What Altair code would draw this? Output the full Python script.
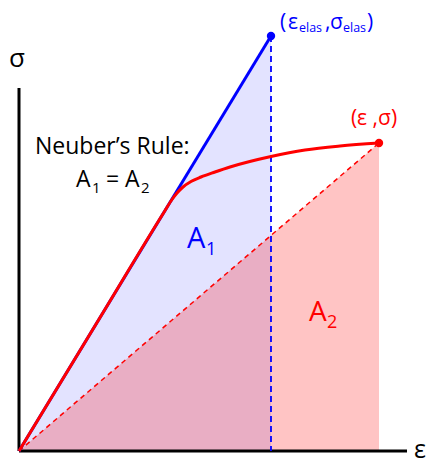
import altair as alt
import pandas as pd

# Elastic solution end point (ε_elas, σ_elas) and actual elastic-plastic state (ε, σ)
eps_elas, sig_elas = 2.52, 4.15
eps_act, sig_act = 3.60, 3.08

# Elastic-plastic stress-strain curve (linear up to yield, then hardening)
curve_eps = [0.0, 0.80, 1.45, 1.53, 1.58, 1.64, 1.72, 1.82, 1.96, 2.11, 2.52, 2.86, 3.21, 3.60]
curve_sig = [0.0, 1.318, 2.388, 2.515, 2.58, 2.64, 2.695, 2.74, 2.79, 2.84, 2.945, 3.01, 3.05, 3.08]

# Extent of the drawn axis lines
eps_axis_max = 3.88
sig_axis_max = 3.63

FONT = "Open Sans"
BLUE = "#0000ff"
RED = "#ff0000"

xs = alt.Scale(domain=[-0.19, 4.11], nice=False, zero=False)
ys = alt.Scale(domain=[-0.11, 4.51], nice=False, zero=False)


def X(field="eps"):
    return alt.X(f"{field}:Q", scale=xs, axis=None)


def Y(field="sig"):
    return alt.Y(f"{field}:Q", scale=ys, axis=None)


elastic = pd.DataFrame({"eps": [0.0, eps_elas], "sig": [0.0, sig_elas]})
secant = pd.DataFrame({"eps": [0.0, eps_act], "sig": [0.0, sig_act]})
curve = pd.DataFrame({"eps": curve_eps, "sig": curve_sig})
axes_df = pd.DataFrame({
    "eps": [0.0, 0.0], "eps2": [0.0, eps_axis_max],
    "sig": [0.0, 0.0], "sig2": [sig_axis_max, 0.0],
})
elas_pt = pd.DataFrame({"eps": [eps_elas], "sig": [sig_elas], "zero": [0.0]})
act_pt = pd.DataFrame({"eps": [eps_act], "sig": [sig_act]})

# Triangular areas A1 (elastic) and A2 (actual)
fill_a1 = alt.Chart(elastic).mark_area(color=BLUE, opacity=0.11).encode(
    x=X(), y=Y(), y2=alt.datum(0))
fill_a2 = alt.Chart(secant).mark_area(color=RED, opacity=0.23).encode(
    x=X(), y=Y(), y2=alt.datum(0))

axis_lines = alt.Chart(axes_df).mark_rule(color="black", strokeWidth=3).encode(
    x=X(), x2="eps2:Q", y=Y(), y2="sig2:Q")

elas_drop = alt.Chart(elas_pt).mark_rule(
    color=BLUE, strokeWidth=1.8, strokeDash=[6, 4]).encode(
    x=X(), y=Y(), y2="zero:Q")

secant_line = alt.Chart(secant).mark_line(
    color=RED, strokeWidth=1.5, strokeDash=[5, 4]).encode(x=X(), y=Y())

elastic_line = alt.Chart(elastic).mark_line(color=BLUE, strokeWidth=3).encode(
    x=X(), y=Y())

curve_line = alt.Chart(curve).mark_line(
    color=RED, strokeWidth=3, interpolate="monotone").encode(
    x=X(), y=Y(), order="eps:Q")

elas_dot = alt.Chart(elas_pt).mark_point(
    filled=True, color=BLUE, size=70, opacity=1).encode(x=X(), y=Y())
act_dot = alt.Chart(act_pt).mark_point(
    filled=True, color=RED, size=70, opacity=1).encode(x=X(), y=Y())

dummy = pd.DataFrame({"k": [0]})


def label(text, x, y, size, color="black", align="left"):
    return alt.Chart(dummy).mark_text(
        text=text, x=x, y=y, fontSize=size, color=color, font=FONT,
        align=align, baseline="alphabetic")


def pt_label(df, text, dx, dy, size, color, align="left"):
    return alt.Chart(df).mark_text(
        text=text, dx=dx, dy=dy, fontSize=size, color=color, font=FONT,
        align=align, baseline="alphabetic").encode(x=X(), y=Y())


texts = [
    label("σ", 17, 67, 26, align="center"),
    label("ε", 420, 458, 25, align="center"),
    label("Neuber’s Rule:", 35, 154, 23),
    label("A", 76, 187, 23),
    label("1", 92, 193, 15),
    label("=", 106, 187, 23),
    label("A", 125, 187, 23),
    label("2", 141, 193, 15),
    label("A", 187, 248, 29, BLUE),
    label("1", 206, 255, 18, BLUE),
    label("A", 309, 321, 28, RED),
    label("2", 327, 328, 18, RED),
    pt_label(elas_pt, "(", 9, -7, 21, BLUE),
    pt_label(elas_pt, "ε", 17, -7, 21, BLUE),
    pt_label(elas_pt, "elas", 28, -4, 12.5, BLUE),
    pt_label(elas_pt, ",", 54, -7, 21, BLUE),
    pt_label(elas_pt, "σ", 59, -7, 21, BLUE),
    pt_label(elas_pt, "elas", 72, -4, 12.5, BLUE),
    pt_label(elas_pt, ")", 96, -7, 21, BLUE),
    pt_label(act_pt, "(ε ,σ)", -5, -18, 21, RED, align="center"),
]

chart = alt.layer(
    fill_a1, fill_a2, axis_lines, elas_drop, secant_line,
    elastic_line, curve_line, elas_dot, act_dot, *texts,
).properties(
    width=430, height=462, padding=0,
    autosize=alt.AutoSizeParams(type="none"),
).configure_view(stroke=None)

chart.save("out.html", embed_options={"renderer": "svg", "actions": False})
